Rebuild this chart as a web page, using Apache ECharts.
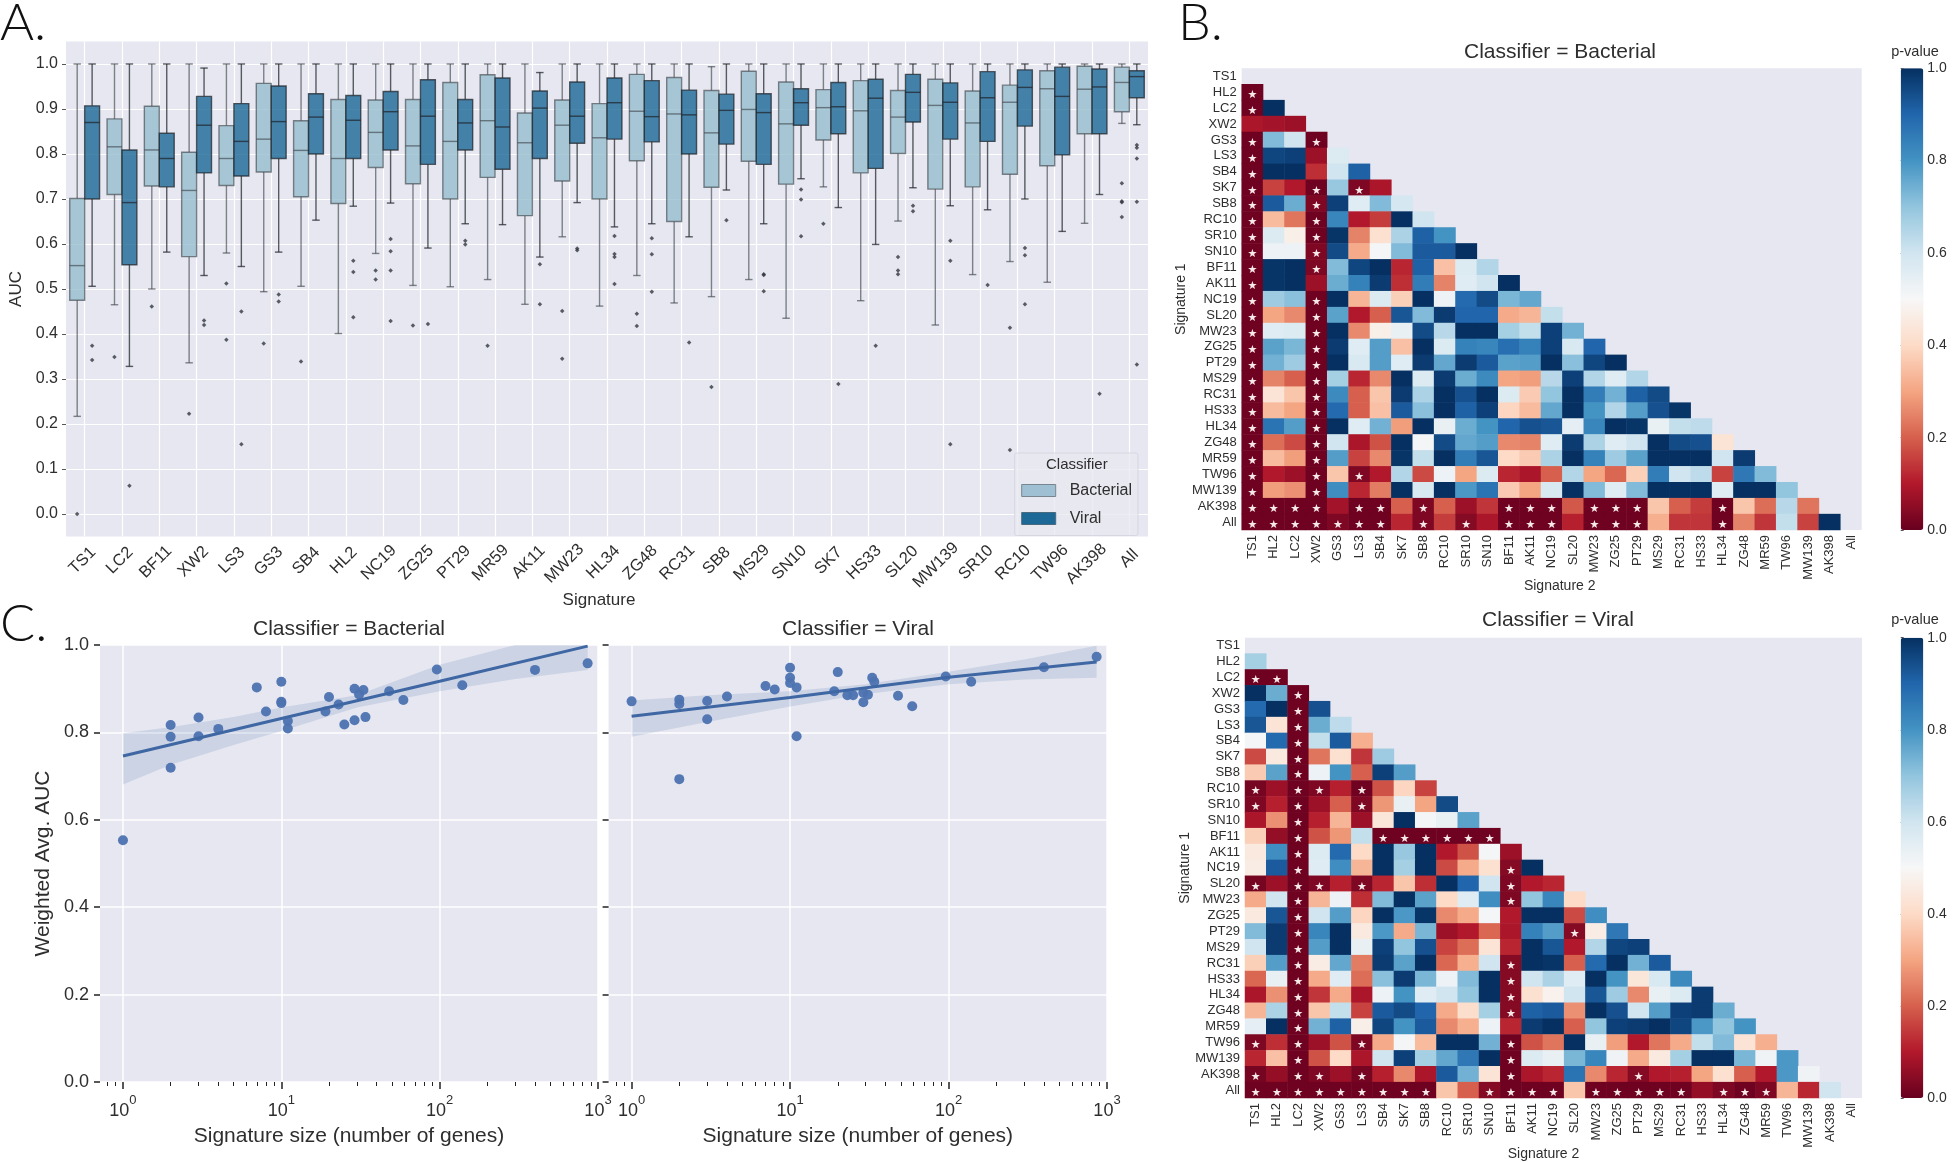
<!DOCTYPE html>
<html>
<head>
<meta charset="utf-8">
<style>
	html, body { margin: 0; padding: 0; background: #fff; }
	#main { width: 1952px; height: 1162px; }
</style>
<script src="https://cdn.jsdelivr.net/npm/echarts@6/dist/echarts.min.js"></script>
</head>
<body>
<div id="main"></div>
<script>
var signatures = ['TS1', 'LC2', 'BF11', 'XW2', 'LS3', 'GS3', 'SB4', 'HL2', 'NC19', 'ZG25', 'PT29', 'MR59', 'AK11', 'MW23', 'HL34', 'ZG48', 'RC31', 'SB8', 'MS29', 'SN10', 'SK7', 'HS33', 'SL20', 'MW139', 'SR10', 'RC10', 'TW96', 'AK398', 'All'];
var aucTicks = [0, 0.1, 0.2, 0.3, 0.4, 0.5, 0.6, 0.7, 0.8, 0.9, 1];

// low, q1, median, q3, high
var bacterialBox = [
	[.217, .475, .552, .701, 1], [.465, .71, .816, .878, 1], [.5, .729, .809, .906, 1], [.336, .572, .719, .804, 1],
	[.58, .73, .79, .863, 1], [.494, .76, .833, .957, 1], [.506, .705, .808, .874, 1], [.401, .69, .79, .921, 1],
	[.579, .77, .848, .92, 1], [.508, .734, .818, .921, 1], [.505, .7, .828, .959, 1], [.521, .748, .874, .976, 1],
	[.466, .663, .825, .891, 1], [.616, .74, .864, .92, 1], [.462, .7, .836, .912, 1], [.53, .785, .895, .977, 1],
	[.469, .65, .889, .97, 1], [.483, .726, .847, .941, .994], [.521, .784, .899, .984, 1], [.435, .733, .867, .96, 1],
	[.727, .831, .903, .943, 1], [.474, .758, .896, .963, 1], [.651, .801, .882, .941, 1], [.42, .722, .908, .966, 1],
	[.532, .727, .869, .94, 1], [.561, .755, .915, .953, 1], [.515, .774, .945, .985, 1], [.646, .845, .944, .995, 1],
	[.868, .894, .959, .993, 1]
];
var viralBox = [
	[.506, .7, .87, .907, 1], [.328, .554, .692, .809, 1], [.582, .727, .79, .846, 1], [.53, .758, .864, .928, .991],
	[.55, .751, .828, .912, 1], [.582, .79, .872, .951, 1], [.653, .8, .882, .934, 1], [.684, .79, .875, .93, 1],
	[.691, .809, .894, .939, 1], [.591, .777, .884, .965, 1], [.645, .809, .869, .921, 1], [.643, .766, .86, .969, 1],
	[.571, .79, .902, .94, .981], [.692, .824, .884, .96, 1], [.638, .833, .914, .969, 1], [.645, .827, .883, .963, 1],
	[.616, .8, .887, .942, 1], [.72, .822, .897, .933, 1], [.645, .777, .892, .934, 1], [.745, .864, .914, .945, 1],
	[.681, .845, .905, .959, 1], [.599, .768, .924, .966, 1], [.725, .871, .937, .977, 1], [.685, .833, .915, .958, 1],
	[.676, .828, .925, .983, 1], [.7, .862, .948, .987, 1], [.628, .798, .928, .993, 1], [.71, .845, .949, .989, 1],
	[.865, .925, .972, .985, 1]
];
var bacterialOutliers = [
	['TS1', 0], ['LC2', .349], ['BF11', .461], ['XW2', .223], ['LS3', .512], ['LS3', .387], ['GS3', .379], ['SB4', .339],
	['NC19', .541], ['NC19', .521], ['ZG25', .419], ['MR59', .374], ['MW23', .451], ['MW23', .345], ['ZG48', .445], ['ZG48', .418],
	['SB8', .282], ['SK7', .645], ['SL20', .571], ['SL20', .541], ['SL20', .533], ['RC10', .414], ['RC10', .142],
	['All', .735], ['All', .695], ['All', .693], ['All', .66]
];
var viralOutliers = [
	['TS1', .374], ['TS1', .342], ['LC2', .063], ['XW2', .43], ['XW2', .42], ['LS3', .45], ['LS3', .155], ['GS3', .488], ['GS3', .472],
	['HL2', .563], ['HL2', .538], ['HL2', .437], ['NC19', .611], ['NC19', .584], ['NC19', .541], ['NC19', .429], ['ZG25', .422],
	['PT29', .607], ['PT29', .599], ['AK11', .555], ['AK11', .466], ['MW23', .59], ['MW23', .586], ['HL34', .618], ['HL34', .578], ['HL34', .571], ['HL34', .511],
	['ZG48', .613], ['ZG48', .577], ['ZG48', .494], ['RC31', .381], ['SB8', .653], ['MS29', .533], ['MS29', .531], ['MS29', .495],
	['SN10', .721], ['SN10', .699], ['SN10', .617], ['SK7', .289], ['HS33', .374], ['SL20', .685], ['SL20', .673],
	['MW139', .607], ['MW139', .563], ['MW139', .155], ['SR10', .509], ['RC10', .591], ['RC10', .575], ['RC10', .466], ['AK398', .267],
	['All', .82], ['All', .814], ['All', .79], ['All', .694], ['All', .332]
];

var heatLabels = ['TS1', 'HL2', 'LC2', 'XW2', 'GS3', 'LS3', 'SB4', 'SK7', 'SB8', 'RC10', 'SR10', 'SN10', 'BF11', 'AK11', 'NC19', 'SL20', 'MW23', 'ZG25', 'PT29', 'MS29', 'RC31', 'HS33', 'HL34', 'ZG48', 'MR59', 'TW96', 'MW139', 'AK398', 'All'];
var pBacterial = [
	[],
	[.01],
	[.01, 1],
	[.09, .08, .07],
	[.01, .72, .6, .01],
	[.01, .96, .97, .07, .57],
	[.01, 1, 1, .13, .6, .91],
	[.01, .16, .1, .01, .69, .03, .09],
	[.01, .92, .75, .03, .97, .56, .72, .59],
	[.01, .34, .23, .01, .83, .1, .15, 1, .6],
	[.01, .57, .47, .01, .99, .25, .42, .66, .91, .8],
	[.01, .53, .53, .03, .95, .31, .51, .72, .92, .92, 1],
	[.01, .99, 1, .03, .72, .96, 1, .12, .91, .35, .57, .65],
	[.01, .99, 1, .07, .75, .84, .98, .13, .85, .25, .56, .6, 1],
	[.01, .68, .71, .01, 1, .33, .57, .38, 1, .53, .89, .95, .73, .76],
	[.01, .3, .26, .01, .77, .1, .2, .93, .72, .98, .9, .9, .31, .33, .62],
	[.01, .56, .57, .01, 1, .26, .47, .54, .95, .64, 1, 1, .67, .62, .97, .74],
	[.01, .77, .73, .01, .98, .56, .78, .35, 1, .57, .84, .83, .88, .84, .97, .58, .9],
	[.01, .74, .68, .01, 1, .58, .78, .56, .98, .76, .98, .92, .77, .78, 1, .71, .96, 1],
	[.01, .25, .2, .01, .67, .12, .26, 1, .57, .98, .75, .82, .3, .29, .64, .97, .65, .56, .65],
	[.01, .43, .36, .01, .82, .2, .36, .98, .66, 1, .94, 1, .57, .37, .7, 1, .85, .74, .91, .95],
	[.01, .34, .3, .01, .89, .2, .35, .92, .71, 1, .91, .97, .39, .34, .76, 1, .8, .65, .78, .94, .99],
	[.01, .87, .78, .01, 1, .56, .74, .29, 1, .54, .75, .8, .9, .94, .93, .55, .83, 1, .99, .54, .62, .63],
	[.01, .22, .17, .01, .6, .09, .18, 1, .51, .95, .76, .78, .26, .25, .56, .98, .66, .56, .6, 1, .95, .94, .43],
	[.01, .34, .29, .01, .78, .16, .26, .99, .62, 1, .85, .93, .4, .37, .66, 1, .84, .68, .77, 1, 1, 1, .6, .98],
	[.01, .1, .07, .01, .36, .03, .1, .65, .17, .53, .3, .57, .12, .09, .2, .65, .3, .21, .38, .85, .6, .63, .16, .86, .72],
	[.01, .29, .27, .01, .81, .12, .24, 1, .58, 1, .79, .87, .37, .3, .58, 1, .72, .56, .72, 1, 1, 1, .56, 1, 1, .7],
	[.01, .01, .01, .01, .08, .01, .01, .2, .03, .2, .07, .14, .01, .01, .01, .19, .01, .01, .01, .36, .2, .15, .01, .36, .22, .64, .23],
	[.01, .01, .01, .01, .03, .01, .01, .12, .03, .15, .04, .09, .01, .01, .01, .11, .01, .01, .01, .32, .14, .14, .01, .25, .14, .62, .16, 1]
];
var pViral = [
	[],
	[.67],
	[.01, .01],
	[1, .75, .01],
	[.89, 1, .01, .94],
	[.93, .43, .01, .75, .63],
	[.51, .89, .01, .62, .92, .32],
	[.17, .45, .01, .23, .42, .14, .68],
	[.37, .77, .01, .53, .8, .2, .97, .78],
	[.02, .07, .01, .03, .11, .01, .18, .39, .16],
	[.03, .11, .01, .07, .2, .03, .28, .54, .3, .95],
	[.09, .27, .01, .11, .33, .07, .44, 1, .51, .54, .77],
	[.38, .06, .01, .18, .28, .62, .01, .01, .01, .01, .01, .01],
	[.45, .81, .01, .57, .89, .4, 1, .69, 1, .1, .18, .51, .07],
	[.46, .92, .01, .56, .81, .33, 1, .67, 1, .17, .31, .42, .04, 1],
	[.02, .07, .01, .03, .11, .03, .12, .36, .13, 1, .9, .6, .03, .1, .12],
	[.31, .6, .01, .33, .53, .13, .72, 1, .77, .4, .56, .81, .03, .7, .83, .4],
	[.45, .93, .01, .6, .78, .39, 1, .79, .99, .26, .31, .51, .1, 1, 1, .17, .81],
	[.72, .98, .01, .83, 1, .45, .79, .31, .73, .07, .1, .21, .09, .84, .78, .04, .46, .86],
	[.6, .98, .01, .78, 1, .54, .97, .7, .94, .16, .22, .43, .12, 1, .93, .1, .65, .96, .97],
	[.38, .78, .01, .46, .76, .24, .98, .77, 1, .21, .32, .6, .04, 1, .99, .2, .89, 1, .74, .92],
	[.21, .54, .01, .31, .56, .22, .71, .98, .73, .53, .72, 1, .04, .6, .66, .56, 1, .8, .44, .58, .82],
	[.09, .27, .01, .14, .31, .09, .53, .8, .56, .6, .7, 1, .04, .42, .48, .6, .93, .68, .26, .54, .57, .98],
	[.33, .66, .01, .36, .62, .16, .92, .95, .9, .31, .41, .67, .04, .91, .92, .27, 1, .94, .6, .78, .97, .98, .75],
	[.55, 1, .01, .74, .91, .47, .96, .8, .92, .26, .32, .53, .12, .98, 1, .2, .7, .97, .98, 1, .96, .79, .7, .8],
	[.03, .13, .01, .07, .18, .03, .31, .51, .34, 1, 1, .74, .01, .18, .23, 1, .54, .29, .1, .23, .31, .62, .72, .43, .32],
	[.12, .35, .01, .18, .4, .09, .6, .97, .67, .76, .86, 1, .01, .57, .54, .73, .83, .52, .31, .45, .67, 1, 1, .73, .52, .79],
	[.02, .06, .01, .03, .07, .02, .11, .26, .09, .92, .74, .43, .01, .09, .12, .87, .26, .12, .04, .1, .11, .3, .42, .2, .1, .79, .52],
	[.01, .01, .01, .01, .01, .01, .01, .01, .01, .36, .2, .04, .01, .01, .01, .36, .01, .01, .01, .01, .01, .06, .03, .01, .03, .33, .12, .6]
];
var rdbuColors = ['#67001f', '#b2182b', '#d6604d', '#f4a582', '#fddbc7', '#f7f7f7', '#d1e5f0', '#92c5de', '#4393c3', '#2166ac', '#053061'];

var signatureSize = [1, 2, 2, 2, 3, 3, 4, 7, 8, 10, 10, 10, 11, 11, 19, 20, 23, 25, 29, 29, 31, 33, 34, 48, 59, 96, 139, 400, 860];
var bacterialAuc = [.553, .817, .79, .719, .834, .791, .808, .903, .848, .916, .87, .867, .826, .809, .848, .881, .864, .818, .828, .9, .887, .897, .835, .894, .874, .944, .908, .943, .958];
var viralAuc = [.871, .875, .865, .693, .872, .83, .882, .906, .898, .948, .925, .913, .903, .791, .894, .938, .885, .885, .869, .891, .886, .925, .916, .884, .86, .928, .916, .949, .973];
var fitSizes = [1, 10, 100, 860];
var bacterialFit = [.746, .832, .917, .9975];
var viralFit = [.837, .88, .926, .961];
var bacterialBand = [[1, .681, .798], [2, .726, .812], [5, .771, .835], [10, .803, .857], [30, .857, .885], [100, .894, .955], [300, .922, 1], [860, .943, 1]];
var viralBand = [[1, .79, .873], [3, .824, .885], [10, .859, .894], [30, .888, .91], [100, .91, .939], [300, .921, .967], [860, .925, .998]];
var decadeTicks = [1, 10, 100, 1000];
var minorLogTicks = [.8, .9, 2, 3, 4, 5, 6, 7, 8, 9, 20, 30, 40, 50, 60, 70, 80, 90, 200, 300, 400, 500, 600, 700, 800, 900];

var font = '"Liberation Sans", Arial, sans-serif';
var textColor = '#2e2e2e';
var plotBg = '#e6e7f0';

function rowsToCells(rows) {
	var cells = [];
	for(var i = 0; i < rows.length; i++) {
		for(var j = 0; j < rows[i].length; j++) {
			cells.push([j, i, rows[i][j]]);
		}
	}
	return cells;
}

// matplotlib lines up the top of rotated labels, not their middle.
// padding on a centred rotated label pushes longer ones straight down
function rotatedCategories(names, size) {
	var ctx = document.createElement('canvas').getContext('2d');
	ctx.font = size + 'px ' + font;
	var shortest = Infinity;
	var i;
	for(i = 0; i < names.length; i++) {
		shortest = Math.min(shortest, ctx.measureText(names[i]).width);
	}
	var out = [];
	for(i = 0; i < names.length; i++) {
		var extra = (ctx.measureText(names[i]).width - shortest) / 2;
		out.push({ value: names[i], textStyle: { align: 'center', verticalAlign: 'middle', padding: [extra, extra, 0, 0] } });
	}
	return out;
}

// one box with half width caps, side is -1 or 1 for the hue slot
function renderBox(side, fill, edge) {
	return function(params, api) {
		var cat = api.value(0);
		var band = api.size([1, 0])[0];
		var w = band * 0.4;
		var cx = api.coord([cat, 0])[0] + side * band * 0.2;
		var low = api.coord([cat, api.value(1)])[1];
		var q1 = api.coord([cat, api.value(2)])[1];
		var med = api.coord([cat, api.value(3)])[1];
		var q3 = api.coord([cat, api.value(4)])[1];
		var high = api.coord([cat, api.value(5)])[1];
		var line = { stroke: edge, lineWidth: 1.4 };
		function seg(x1, y1, x2, y2) {
			return { type: 'line', shape: { x1: x1, y1: y1, x2: x2, y2: y2 }, style: line };
		}
		return {
			type: 'group',
			children: [
				seg(cx, low, cx, q1),
				seg(cx, q3, cx, high),
				seg(cx - w / 4, low, cx + w / 4, low),
				seg(cx - w / 4, high, cx + w / 4, high),
				{ type: 'rect', shape: { x: cx - w / 2, y: q3, width: w, height: q1 - q3 }, style: { fill: fill, stroke: edge, lineWidth: 1.4 } },
				seg(cx - w / 2, med, cx + w / 2, med)
			]
		};
	};
}

function renderBand(rows) {
	return function(params, api) {
		if(params.dataIndex !== 0) {
			return null;
		}
		var pts = [];
		var i;
		for(i = 0; i < rows.length; i++) {
			pts.push(api.coord([rows[i][0], rows[i][2]]));
		}
		for(i = rows.length - 1; i >= 0; i--) {
			pts.push(api.coord([rows[i][0], rows[i][1]]));
		}
		return { type: 'polygon', shape: { points: pts }, style: { fill: 'rgba(76,114,176,0.17)' } };
	};
}

function heatX(g, padding) {
	return {
		type: 'category', gridIndex: g, data: heatLabels, name: 'Signature 2', nameLocation: 'middle', nameGap: 49, nameMoveOverlap: false,
		nameTextStyle: { fontSize: 14, color: textColor, padding: padding },
		axisLine: { show: false },
		axisTick: { alignWithLabel: true, length: 3, lineStyle: { color: '#555' } },
		axisLabel: { rotate: 90, fontSize: 13, color: textColor, margin: 5, interval: 0 },
		splitLine: { show: false }
	};
}

function heatY(g, gap) {
	return {
		type: 'category', gridIndex: g, data: heatLabels, inverse: true, name: 'Signature 1', nameLocation: 'middle', nameGap: gap, nameMoveOverlap: false,
		nameTextStyle: { fontSize: 14, color: textColor },
		axisLine: { show: false },
		axisTick: { alignWithLabel: true, length: 3, lineStyle: { color: '#555' } },
		axisLabel: { fontSize: 13, color: textColor, margin: 5, interval: 0 },
		splitLine: { show: false }
	};
}

function heatSeries(g, rows) {
	return {
		type: 'heatmap', xAxisIndex: g, yAxisIndex: g, data: rowsToCells(rows), z: 3,
		label: {
			show: true, color: '#f6e9ea', fontSize: 11, fontFamily: '"DejaVu Sans"', offset: [0, 3],
			formatter: function(p) {
				return p.value[2] < 0.05 ? '★' : '';
			}
		}
	};
}

function colorMap(idx, top, height) {
	return {
		type: 'continuous', seriesIndex: idx, dimension: 2, min: 0, max: 1, inRange: { color: rdbuColors },
		left: 1900.7, top: top, itemWidth: 22.6, itemHeight: height, padding: 0, calculable: false, hoverLink: false, text: null, showLabel: false
	};
}

function colorAxisX(g) {
	return { type: 'value', gridIndex: g, min: 0, max: 1, show: false };
}

function colorAxisY(g) {
	return {
		type: 'value', gridIndex: g, min: 0, max: 1, interval: 0.2, position: 'right',
		axisLine: { show: false }, splitLine: { show: false },
		axisTick: { show: true, length: 3, lineStyle: { color: '#555' } },
		axisLabel: { fontSize: 14, color: textColor, margin: 4, formatter: function(v) { return v.toFixed(1); } }
	};
}

function logX(g) {
	return {
		type: 'log', logBase: 10, gridIndex: g, min: 0.716, max: 1000, position: 'bottom',
		name: 'Signature size (number of genes)', nameLocation: 'middle', nameGap: 44, nameMoveOverlap: false,
		nameTextStyle: { fontSize: 21, color: textColor },
		axisLine: { show: false },
		axisTick: { show: true, length: 7, customValues: decadeTicks, lineStyle: { color: '#222', width: 1.5 } },
		axisLabel: {
			customValues: decadeTicks, margin: 12, color: textColor, showMinLabel: true, showMaxLabel: true,
			formatter: function(v) {
				return '{b|10}{s|' + Math.round(Math.log10(v)) + '}';
			},
			rich: {
				b: { fontSize: 18, lineHeight: 26, color: textColor, verticalAlign: 'bottom' },
				s: { fontSize: 13, lineHeight: 26, color: textColor, verticalAlign: 'top' }
			}
		},
		splitLine: { show: true, lineStyle: { color: '#fff', width: 1.5 } }
	};
}

function logMinorX(g) {
	return {
		type: 'log', logBase: 10, gridIndex: g, min: 0.716, max: 1000, position: 'bottom',
		axisLine: { show: false }, axisLabel: { show: false }, splitLine: { show: false },
		axisTick: { show: true, length: 4, customValues: minorLogTicks, lineStyle: { color: '#222', width: 1 } }
	};
}

function weightedY(g, withLabels) {
	return {
		type: 'value', gridIndex: g, min: 0, max: 1, interval: 0.2,
		name: withLabels ? 'Weighted Avg. AUC' : '', nameLocation: 'middle', nameGap: 46, nameMoveOverlap: false,
		nameTextStyle: { fontSize: 21, color: textColor },
		axisLine: { show: false },
		axisTick: { show: true, length: 6, lineStyle: { color: '#222', width: 1.5 } },
		axisLabel: { show: withLabels, fontSize: 18, color: textColor, margin: 11, formatter: function(v) { return v.toFixed(1); } },
		splitLine: { show: true, lineStyle: { color: '#fff', width: 1.5 } }
	};
}

function fitSeries(g, sizes, auc, fit, bandRows) {
	var line = [];
	var pts = [];
	var i;
	for(i = 0; i < fitSizes.length; i++) {
		line.push([fitSizes[i], fit[i]]);
	}
	for(i = 0; i < sizes.length; i++) {
		pts.push([sizes[i], auc[i]]);
	}
	return [
		{ type: 'custom', xAxisIndex: g, yAxisIndex: g, data: bandRows, renderItem: renderBand(bandRows), encode: { x: 0, y: [1, 2] }, z: 2, silent: true },
		{ type: 'scatter', xAxisIndex: g, yAxisIndex: g, data: pts, symbolSize: 10, itemStyle: { color: '#4c72b0', opacity: 0.95 }, z: 3 },
		{ type: 'line', xAxisIndex: g, yAxisIndex: g, data: line, showSymbol: false, lineStyle: { color: '#3e67a3', width: 3 }, z: 4 }
	];
}

function boxRows(list) {
	var out = [];
	for(var i = 0; i < list.length; i++) {
		out.push([i].concat(list[i]));
	}
	return out;
}

var myChart = echarts.init(document.getElementById('main'), null, { renderer: 'canvas' });

var series = [
	heatSeries(1, pBacterial),
	heatSeries(2, pViral),
	{ type: 'custom', name: 'Bacterial', xAxisIndex: 0, yAxisIndex: 0, data: boxRows(bacterialBox), encode: { x: 0, y: [1, 2, 3, 4, 5] }, renderItem: renderBox(-1, 'rgba(150,190,208,0.8)', 'rgba(60,65,70,0.62)'), itemStyle: { color: '#9fc0d2' }, z: 3 },
	{ type: 'custom', name: 'Viral', xAxisIndex: 0, yAxisIndex: 0, data: boxRows(viralBox), encode: { x: 0, y: [1, 2, 3, 4, 5] }, renderItem: renderBox(1, 'rgba(28,104,150,0.8)', 'rgba(30,35,40,0.72)'), itemStyle: { color: '#1c6896' }, z: 3 },
	{ type: 'scatter', xAxisIndex: 0, yAxisIndex: 0, data: bacterialOutliers, symbol: 'diamond', symbolSize: 4.5, symbolOffset: [-7.5, 0], itemStyle: { color: '#33383d' }, z: 4 },
	{ type: 'scatter', xAxisIndex: 0, yAxisIndex: 0, data: viralOutliers, symbol: 'diamond', symbolSize: 4.5, symbolOffset: [7.5, 0], itemStyle: { color: '#33383d' }, z: 4 }
].concat(fitSeries(5, signatureSize, bacterialAuc, bacterialFit, bacterialBand), fitSeries(6, signatureSize, viralAuc, viralFit, viralBand));

var option = {
	animation: false,
	backgroundColor: '#fff',
	textStyle: { fontFamily: font, color: textColor },
	title: [
		{ text: 'Classifier = Bacterial', left: 1560, top: 52, textAlign: 'center', textVerticalAlign: 'middle', padding: 0, textStyle: { fontSize: 21, fontWeight: 'normal', color: textColor } },
		{ text: 'Classifier = Viral', left: 1558, top: 620, textAlign: 'center', textVerticalAlign: 'middle', padding: 0, textStyle: { fontSize: 21, fontWeight: 'normal', color: textColor } },
		{ text: 'Classifier = Bacterial', left: 349, top: 629, textAlign: 'center', textVerticalAlign: 'middle', padding: 0, textStyle: { fontSize: 21, fontWeight: 'normal', color: textColor } },
		{ text: 'Classifier = Viral', left: 858, top: 629, textAlign: 'center', textVerticalAlign: 'middle', padding: 0, textStyle: { fontSize: 21, fontWeight: 'normal', color: textColor } },
		{ text: 'p-value', left: 1915, top: 52, textAlign: 'center', textVerticalAlign: 'middle', padding: 0, textStyle: { fontSize: 14.5, fontWeight: 'normal', color: textColor } },
		{ text: 'p-value', left: 1915, top: 620, textAlign: 'center', textVerticalAlign: 'middle', padding: 0, textStyle: { fontSize: 14.5, fontWeight: 'normal', color: textColor } }
	],
	legend: {
		left: 1014.7, top: 453, orient: 'vertical', selectedMode: false,
		padding: [29.5, 6, 9, 6.5], itemWidth: 34, itemHeight: 12, itemGap: 12,
		backgroundColor: 'rgba(232,233,241,0.8)', borderColor: '#d6d7e0', borderWidth: 1, borderRadius: 2,
		textStyle: { fontSize: 16, color: textColor, padding: [0, 0, 0, 9] },
		data: [
			{ name: 'Bacterial', icon: 'rect', itemStyle: { color: '#9fc0d2', borderColor: '#77858e', borderWidth: 1 } },
			{ name: 'Viral', icon: 'rect', itemStyle: { color: '#1c6896', borderColor: '#4a6a80', borderWidth: 1 } }
		]
	},
	grid: [
		{ left: 60.5, top: 41.5, width: 1087.5, height: 495, show: true, backgroundColor: plotBg, borderWidth: 0 },
		{ left: 1241.7, top: 68.3, width: 620, height: 461.7, show: true, backgroundColor: plotBg, borderWidth: 0 },
		{ left: 1245, top: 637.7, width: 617, height: 460.3, show: true, backgroundColor: plotBg, borderWidth: 0 },
		{ left: 1900.7, top: 68.3, width: 22.6, height: 461.7 },
		{ left: 1900.7, top: 637.7, width: 22.6, height: 460.3 },
		{ left: 100, top: 645, width: 498, height: 437, show: true, backgroundColor: plotBg, borderWidth: 0 },
		{ left: 608.6, top: 645, width: 498.4, height: 437, show: true, backgroundColor: plotBg, borderWidth: 0 }
	],
	xAxis: [
		{
			type: 'category', gridIndex: 0, data: rotatedCategories(signatures, 16.5), name: 'Signature', nameLocation: 'middle', nameGap: 55, nameMoveOverlap: false,
			nameTextStyle: { fontSize: 17, color: textColor, padding: [0, 16, 0, 0] },
			axisLine: { show: false },
			axisTick: { alignWithLabel: true, length: 4, lineStyle: { color: '#555' } },
			axisLabel: { rotate: 45, interval: 0, fontSize: 16.5, color: textColor, align: 'center', verticalAlign: 'middle', margin: 22 },
			splitLine: { show: true, alignWithLabel: true, interval: 0, lineStyle: { color: '#fff', width: 1.2 } }
		},
		heatX(1, [0, 0, 0, 16]),
		heatX(2, [0, 20, 0, 0]),
		colorAxisX(3),
		colorAxisX(4),
		logX(5),
		logX(6),
		logMinorX(5),
		logMinorX(6)
	],
	yAxis: [
		{
			type: 'value', gridIndex: 0, min: -0.05, max: 1.05, splitNumber: 11, name: 'AUC', nameLocation: 'middle', nameGap: 41, nameMoveOverlap: false,
			nameTextStyle: { fontSize: 17, color: textColor },
			axisLine: { show: false },
			axisTick: { show: true, length: 4, customValues: aucTicks, lineStyle: { color: '#555' } },
			axisLabel: { customValues: aucTicks, fontSize: 16, color: textColor, margin: 8, formatter: function(v) { return v.toFixed(1); } },
			splitLine: { show: true, lineStyle: { color: '#fff', width: 1.2 } }
		},
		heatY(1, 54),
		heatY(2, 53),
		colorAxisY(3),
		colorAxisY(4),
		weightedY(5, true),
		weightedY(6, false)
	],
	visualMap: [colorMap(0, 68.3, 461.7), colorMap(1, 637.7, 460.3)],
	series: series,
	graphic: [
		{ type: 'text', left: 0, top: -3, style: { text: 'A.', fontSize: 52, fontFamily: 'Lato', fontWeight: 300, fill: '#111' } },
		{ type: 'text', left: 1178, top: -3, style: { text: 'B.', fontSize: 52, fontFamily: 'Lato', fontWeight: 300, fill: '#111' } },
		{ type: 'text', left: 0, top: 598, style: { text: 'C.', fontSize: 52, fontFamily: 'Lato', fontWeight: 300, fill: '#111' } },
		{ type: 'text', z: 20, left: 1046, top: 457, style: { text: 'Classifier', fontSize: 15, fontFamily: font, fill: textColor } }
	]
};
myChart.setOption(option);
window.onresize = function() {
	myChart.resize();
}
</script>
</body>
</html>
